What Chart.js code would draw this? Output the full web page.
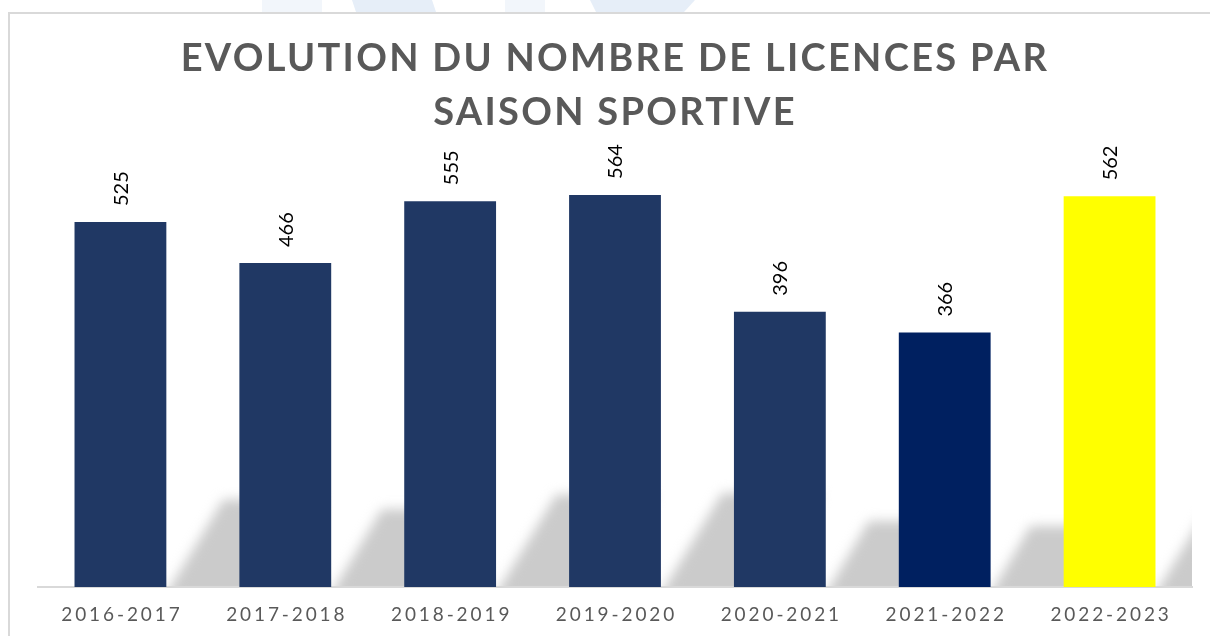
<!DOCTYPE html>
<html>
<head>
<meta charset="utf-8">
<script src="https://cdn.jsdelivr.net/npm/chart.js@4.4.1/dist/chart.umd.min.js"></script>
<style>
  html, body { margin: 0; padding: 0; background: #ffffff; }
  #wrap { position: relative; width: 1210px; height: 636px; }
</style>
</head>
<body>
<div id="wrap"><canvas id="c" width="1210" height="636"></canvas></div>
<script>
// ---- data ----
const titleLines = ['EVOLUTION DU NOMBRE DE LICENCES PAR', 'SAISON SPORTIVE'];
const seasons = ['2016-2017', '2017-2018', '2018-2019', '2019-2020', '2020-2021', '2021-2022', '2022-2023'];
const licences = [525, 466, 555, 564, 396, 366, 562];
const barColors = ['#203864', '#203864', '#203864', '#203864', '#203864', '#002060', '#FFFF00'];

// ---- decorative plugins ----
const framePlugin = {
  id: 'frame',
  beforeDraw(chart) {
    const ctx = chart.ctx;
    ctx.save();
    ctx.fillStyle = '#ffffff';
    ctx.fillRect(0, 0, chart.width, chart.height);
    // faint watermark above the frame
    ctx.fillStyle = '#e6eef8';
    ctx.beginPath();
    ctx.moveTo(352, 0); ctx.lineTo(432, 0); ctx.lineTo(436, 12); ctx.lineTo(356, 12); ctx.closePath(); ctx.fill();
    ctx.beginPath();
    ctx.moveTo(590, 0); ctx.lineTo(695, 0); ctx.lineTo(684, 12); ctx.lineTo(596, 12); ctx.closePath(); ctx.fill();
    ctx.fillStyle = '#f2f6fb';
    ctx.fillRect(262, 0, 60, 12);
    ctx.fillRect(505, 0, 40, 12);
    // frame
    ctx.strokeStyle = '#d9d9d9';
    ctx.lineWidth = 2;
    ctx.strokeRect(9, 13, 1400, 800);
    ctx.restore();
  }
};

const shadowPlugin = {
  id: 'barShadow',
  beforeDatasetsDraw(chart) {
    const ctx = chart.ctx;
    const area = chart.chartArea;
    const meta = chart.getDatasetMeta(0);
    ctx.save();
    ctx.beginPath();
    ctx.rect(area.left, area.top, area.right - area.left, area.bottom - area.top - 1);
    ctx.clip();
    ctx.filter = 'blur(6px)';
    ctx.fillStyle = '#cbcbcb';
    meta.data.forEach(bar => {
      const p = bar.getProps(['x', 'y', 'base', 'width'], true);
      const right = p.x + p.width / 2;
      const h = p.base - p.y;
      const sh = h * 0.24;
      const dx = sh * 0.65;
      const L = 100;
      ctx.beginPath();
      ctx.moveTo(right - 2, p.base + 10);
      ctx.lineTo(right + dx, p.base - sh);
      ctx.lineTo(right + dx + L, p.base - sh);
      ctx.lineTo(right + L, p.base + 10);
      ctx.closePath();
      ctx.fill();
    });
    ctx.restore();
  }
};

const spacingPlugin = {
  id: 'spacing',
  afterLayout(chart) {
    const ctx = chart.ctx;
    const tb = chart.titleBlock;
    if (tb && !tb._patched) {
      const orig = tb.draw;
      tb.draw = function () { ctx.letterSpacing = '2.3px'; orig.apply(this, arguments); ctx.letterSpacing = '0px'; };
      tb._patched = true;
    }
    const xs = chart.scales.x;
    if (xs && !xs._patched) {
      const orig = xs.drawLabels;
      xs.drawLabels = function () {
        ctx.save();
        ctx.letterSpacing = '2.9px';
        ctx.translate(1.5, 0);
        orig.apply(this, arguments);
        ctx.restore();
        ctx.letterSpacing = '0px';
      };
      xs._patched = true;
    }
  }
};

const labelPlugin = {
  id: 'valueLabels',
  afterDatasetsDraw(chart) {
    const ctx = chart.ctx;
    const meta = chart.getDatasetMeta(0);
    ctx.save();
    ctx.letterSpacing = '0px';
    ctx.font = '20px Lato, "Open Sans", sans-serif';
    ctx.fillStyle = '#000000';
    ctx.textAlign = 'left';
    ctx.textBaseline = 'middle';
    meta.data.forEach((bar, i) => {
      const p = bar.getProps(['x', 'y'], true);
      ctx.save();
      ctx.translate(p.x + 1, p.y - 16);
      ctx.rotate(-Math.PI / 2);
      ctx.fillText(String(licences[i]), 0, 0);
      ctx.restore();
    });
    ctx.restore();
  }
};

new Chart(document.getElementById('c'), {
  type: 'bar',
  data: {
    labels: seasons,
    datasets: [{
      data: licences,
      backgroundColor: barColors,
      borderWidth: 0,
      barPercentage: 1,
      categoryPercentage: 0.557
    }]
  },
  options: {
    responsive: false,
    animation: false,
    devicePixelRatio: 1,
    layout: { padding: { left: 38, right: 18, top: 0, bottom: 13 } },
    plugins: {
      legend: { display: false },
      tooltip: { enabled: false },
      title: {
        display: true,
        text: titleLines,
        color: '#595959',
        font: { family: 'Lato, "Open Sans", sans-serif', size: 38, weight: 'bold', lineHeight: 1.42 },
        padding: { top: 32, bottom: 30 }
      }
    },
    scales: {
      x: {
        grid: { display: false, drawTicks: false },
        border: { display: true, color: '#d9d9d9', width: 2 },
        afterFit(scale) { scale.height = 36; },
        ticks: {
          color: '#595959',
          font: { family: 'Lato, "Open Sans", sans-serif', size: 19 },
          padding: 16,
          maxRotation: 0,
          autoSkip: false
        }
      },
      y: {
        display: false,
        min: 0,
        max: 600
      }
    }
  },
  plugins: [framePlugin, shadowPlugin, spacingPlugin, labelPlugin]
});
</script>
</body>
</html>
